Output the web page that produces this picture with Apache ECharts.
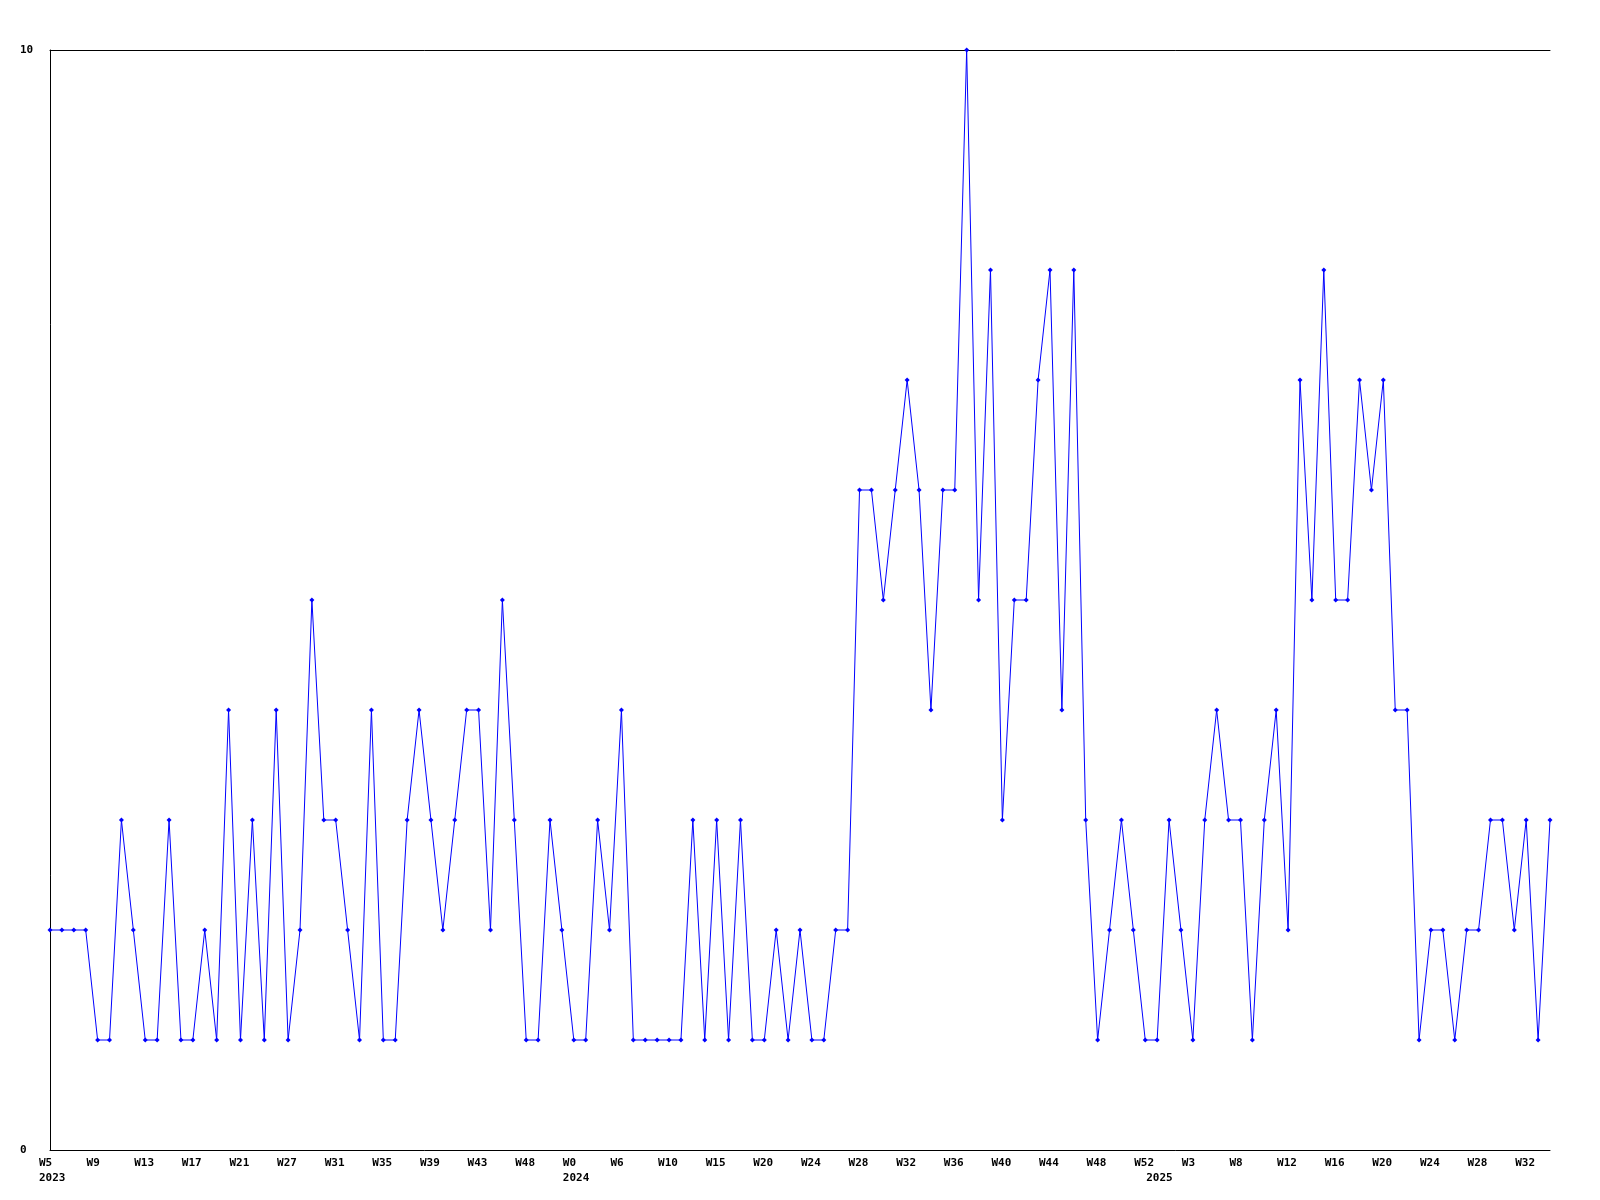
<!DOCTYPE html>
<html>
<head>
<meta charset="utf-8">
<script src="https://cdn.jsdelivr.net/npm/echarts@6/dist/echarts.min.js"></script>
<style>
html,body{margin:0;padding:0;background:#ffffff;}
#chart{width:1600px;height:1200px;}
</style>
</head>
<body>
<div id="chart"></div>
<script>
// Weekly values, one per data point (127 points)
const values = [
  2,2,2,2,1,1,3,2,1,1,3,1,1,2,1,4,1,3,1,4,1,2,5,3,3,2,1,4,1,1,3,4,3,
  2,3,4,4,2,5,3,1,1,3,2,1,1,3,2,4,1,1,1,1,1,3,1,3,1,3,1,1,2,1,2,1,1,
  2,2,6,6,5,6,7,6,4,6,6,10,5,8,3,5,5,7,8,4,8,3,1,2,3,2,1,1,3,2,1,3,4,
  3,3,1,3,4,2,7,5,8,5,5,7,6,7,4,4,1,2,2,1,2,2,3,3,2,3,1,3
];
// Week tick labels, one every 4th point
const tickLabels = [
  'W5','W9','W13','W17','W21','W27','W31','W35','W39','W43','W48',
  'W0','W6','W10','W15','W20','W24','W28','W32','W36','W40','W44','W48','W52',
  'W3','W8','W12','W16','W20','W24','W28','W32'
];
const tickEvery = 4;
// Year labels and the point index where each year starts
const yearLabels = ['2023','2024','2025'];
const yearStartIndex = [0,44,93];
// Y axis range
const yMin = 0, yMax = 10;

const categories = values.map((v, i) => String(i));

function labelFor(i) {
  let first = (i % tickEvery === 0) ? tickLabels[i / tickEvery] : ' ';
  const y = yearStartIndex.indexOf(i);
  if (y >= 0) return first + '\n' + yearLabels[y];
  return first;
}

const font = {
  fontFamily: '"DejaVu Sans Mono", "Liberation Mono", monospace',
  fontWeight: 'bold',
  fontSize: 11,
  color: '#000000'
};

const chart = echarts.init(document.getElementById('chart'), null, {renderer: 'canvas'});
chart.setOption({
  animation: false,
  backgroundColor: '#ffffff',
  grid: [
    {left: 50, right: 50, top: 50, bottom: 50, containLabel: false},
    {left: 39, right: 61, top: 50, bottom: 50, containLabel: false}
  ],
  xAxis: [
    {
      gridIndex: 0, type: 'category', boundaryGap: false, data: categories,
      position: 'bottom',
      axisLine: {show: true, lineStyle: {color: '#000', width: 1}},
      axisTick: {show: false}, axisLabel: {show: false}, splitLine: {show: false}
    },
    {
      gridIndex: 0, type: 'category', boundaryGap: false, data: categories,
      position: 'top',
      axisLine: {show: true, onZero: false, lineStyle: {color: '#000', width: 1}},
      axisTick: {show: false}, axisLabel: {show: false}, splitLine: {show: false}
    },
    {
      gridIndex: 1, type: 'category', boundaryGap: false, data: categories,
      position: 'bottom',
      axisLine: {show: false}, axisTick: {show: false}, splitLine: {show: false},
      axisLabel: Object.assign({
        show: true,
        align: 'left',
        verticalAlign: 'top',
        margin: 6,
        lineHeight: 15,
        interval: function (index) {
          return index % tickEvery === 0 || yearStartIndex.indexOf(index) >= 0;
        },
        formatter: function (value, index) { return labelFor(index); }
      }, font)
    }
  ],
  yAxis: [
    {
      gridIndex: 0, type: 'value', min: yMin, max: yMax, interval: 10,
      axisLine: {show: true, lineStyle: {color: '#000', width: 1}},
      axisTick: {show: false}, splitLine: {show: false},
      axisLabel: Object.assign({show: true, align: 'left', margin: 30}, font)
    },
    {
      gridIndex: 1, type: 'value', min: yMin, max: yMax, show: false
    }
  ],
  series: [
    {
      type: 'line',
      xAxisIndex: 0, yAxisIndex: 0,
      data: values,
      symbol: 'diamond',
      symbolSize: 5,
      showAllSymbol: true,
      lineStyle: {color: '#0000ff', width: 1},
      itemStyle: {color: '#0000ff'},
      emphasis: {disabled: true}
    }
  ]
});
</script>
</body>
</html>
